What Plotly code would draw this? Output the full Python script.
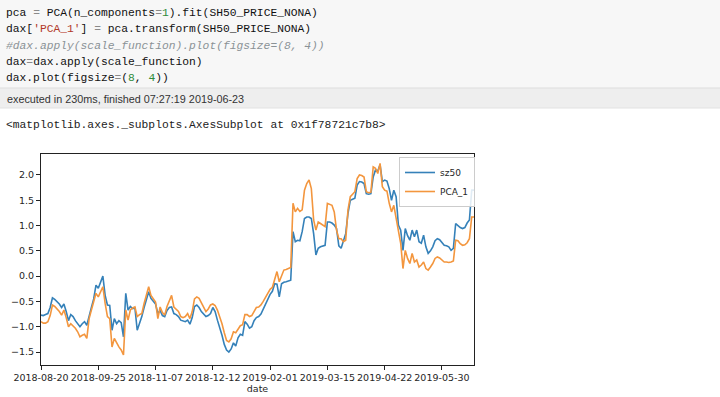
import plotly.graph_objects as go

# ---- data ----
tick_labels = ["2018-08-20", "2018-09-25", "2018-11-07", "2018-12-12",
               "2019-02-01", "2019-03-15", "2019-04-22", "2019-05-30"]
tick_step = 25

sz50 = [
    -0.77, -0.78, -0.76, -0.74, -0.62, -0.43, -0.46, -0.50, -0.55, -0.62,
    -0.55, -0.70, -0.88, -0.76, -0.80, -0.88, -0.93, -1.00, -0.94, -0.90,
    -0.97, -0.76, -0.62, -0.45, -0.18, -0.24, -0.10, 0.00, -0.38, -0.57,
    -0.58, -1.07, -0.84, -0.94, -0.88, -0.92, -1.20, -0.34, -0.67, -0.60,
    -0.64, -0.63, -1.07, -0.95, -0.80, -0.62, -0.45, -0.31, -0.44, -0.50,
    -0.55, -0.74, -0.68, -0.78, -0.80, -0.68, -0.62, -0.61, -0.74, -0.76,
    -0.80, -0.87, -0.88, -0.90, -0.87, -0.95, -0.82, -0.60, -0.57, -0.62,
    -0.70, -0.75, -0.80, -0.78, -0.74, -0.62, -0.70, -0.87, -1.00, -1.17,
    -1.35, -1.46, -1.50, -1.44, -1.32, -1.38, -1.22, -1.15, -1.17, -0.90,
    -0.95, -1.03, -1.00, -0.88, -0.82, -0.80, -0.75, -0.65, -0.55, -0.47,
    -0.36, -0.30, -0.15, -0.16, -0.41, -0.15, -0.12, -0.11, -0.10, -0.08,
    0.88, 0.68, 0.71, 0.70, 0.88, 1.14, 1.17, 1.17, 1.14, 0.84,
    0.42, 0.55, 0.58, 0.60, 0.61, 1.07, 1.07, 1.05, 1.01, 0.94,
    0.60, 0.55, 0.70, 0.84, 1.24, 1.50, 1.52, 1.54, 1.80, 1.87,
    1.86, 1.83, 1.63, 1.62, 1.63, 1.96, 2.10, 2.08, 2.20, 1.87,
    1.90, 1.88, 1.73, 1.50, 1.70, 1.57, 1.01, 0.91, 0.51, 0.94,
    0.80, 0.71, 0.91, 0.78, 0.91, 0.68, 0.65, 0.81, 0.58, 0.45,
    0.50, 0.58, 0.70, 0.74, 0.72, 0.66, 0.61, 0.60, 0.58, 0.51,
    0.55, 1.04, 1.00, 0.96, 0.94, 0.96, 1.05, 1.11, 1.70, 1.70,
]

pca_1 = [
    -0.90, -0.93, -0.93, -0.90, -0.78, -0.57, -0.60, -0.64, -0.70, -0.77,
    -0.67, -0.82, -1.00, -0.94, -0.98, -1.03, -1.10, -1.20, -1.17, -1.15,
    -1.23, -0.84, -0.67, -0.52, -0.34, -0.41, -0.31, -0.21, -0.54, -0.80,
    -0.84, -1.40, -1.23, -1.33, -1.40, -1.46, -1.56, -0.67, -0.87, -0.67,
    -0.63, -0.61, -0.80, -0.76, -0.74, -0.54, -0.35, -0.21, -0.38, -0.45,
    -0.51, -0.84, -0.61, -0.72, -0.77, -0.60, -0.50, -0.38, -0.61, -0.65,
    -0.70, -0.80, -0.82, -0.80, -0.74, -0.84, -0.70, -0.45, -0.41, -0.44,
    -0.52, -0.61, -0.70, -0.65, -0.57, -0.55, -0.58, -0.67, -0.80, -0.94,
    -1.12, -1.27, -1.30, -1.24, -1.10, -1.12, -1.05, -0.98, -0.96, -0.76,
    -0.76, -0.80, -0.78, -0.70, -0.62, -0.61, -0.57, -0.50, -0.42, -0.34,
    -0.26, -0.22, -0.05, 0.09, -0.11, 0.00, 0.12, 0.13, 0.15, 0.17,
    1.44, 1.27, 1.34, 1.28, 1.31, 1.70, 1.83, 1.90, 1.73, 1.11,
    0.91, 1.07, 1.04, 1.00, 0.98, 1.44, 1.42, 1.40, 1.27, 0.91,
    0.74, 0.74, 0.68, 0.71, 1.31, 1.57, 1.62, 1.67, 1.93, 2.00,
    1.99, 1.96, 1.67, 1.65, 1.66, 2.16, 2.13, 2.03, 2.23, 1.77,
    1.70, 1.68, 1.44, 1.27, 1.40, 1.17, 0.91, 0.65, 0.15, 0.51,
    0.35, 0.25, 0.45, 0.28, 0.32, 0.18, 0.22, 0.28, 0.15, 0.12,
    0.18, 0.25, 0.35, 0.38, 0.36, 0.32, 0.28, 0.28, 0.27, 0.28,
    0.30, 0.71, 0.70, 0.64, 0.61, 0.62, 0.66, 0.74, 1.17, 1.17,
]

y_ticks = [-1.5, -1.0, -0.5, 0.0, 0.5, 1.0, 1.5, 2.0]

# ---- layout helpers ----
W, H = 720, 397
def px(x):
    return x / W
def py(y):
    return 1 - y / H

x_idx = list(range(len(sz50)))
tick_pos = [i * tick_step for i in range(len(tick_labels))]

fig = go.Figure()
fig.add_trace(go.Scatter(x=x_idx, y=sz50, mode="lines", name="sz50",
                         line=dict(color="#3581b9", width=1.6)))
fig.add_trace(go.Scatter(x=x_idx, y=pca_1, mode="lines", name="PCA_1",
                         line=dict(color="#f3963e", width=1.6)))

axis_font = dict(family="DejaVu Sans", size=9.5, color="#262626")

fig.update_layout(
    width=W, height=H,
    margin=dict(l=0, r=0, t=0, b=0),
    paper_bgcolor="white", plot_bgcolor="white",
    showlegend=True,
    legend=dict(x=px(399), y=py(157), xanchor="left", yanchor="top",
                bgcolor="rgba(255,255,255,0.85)", bordercolor="#cccccc",
                borderwidth=1, font=dict(family="DejaVu Sans", size=9, color="#262626"),
                itemwidth=30, tracegroupgap=0),
    xaxis=dict(domain=[px(41), px(474)], range=[0, len(sz50) - 1],
               tickmode="array", tickvals=tick_pos, ticktext=tick_labels,
               showgrid=False, zeroline=False, showline=True, mirror=True,
               linecolor="#222222", linewidth=1, ticks="outside", ticklen=4,
               tickcolor="#222222", tickfont=axis_font, automargin=False,
               title=dict(text="date", font=axis_font, standoff=2)),
    yaxis=dict(domain=[py(365), py(154)], range=[-1.757, 2.415],
               tickmode="array", tickvals=y_ticks, tickformat=".1f",
               showgrid=False, zeroline=False, showline=True, mirror=True,
               linecolor="#222222", linewidth=1, ticks="outside", ticklen=4,
               tickcolor="#222222", tickfont=axis_font, automargin=False),
)

# notebook cell backgrounds
fig.add_shape(type="rect", xref="paper", yref="paper", x0=0, x1=1, y0=py(88), y1=1,
              fillcolor="#f7f7f7", line=dict(width=0), layer="below")
fig.add_shape(type="rect", xref="paper", yref="paper", x0=0, x1=1, y0=py(108), y1=py(88),
              fillcolor="#eeeeee", line=dict(width=0), layer="below")
fig.add_shape(type="line", xref="paper", yref="paper", x0=0, x1=1, y0=py(88), y1=py(88),
              line=dict(color="#dddddd", width=1), layer="below")
fig.add_shape(type="line", xref="paper", yref="paper", x0=0, x1=1, y0=py(108), y1=py(108),
              line=dict(color="#e2e2e2", width=1), layer="below")

OP = "#8a8a8a"
NUM = "#2e8b3a"
STR = "#b23a2a"
CMT = "#8a9296"

def op(s):
    return f'<span style="color:{OP}">{s}</span>'
def num(s):
    return f'<span style="color:{NUM}">{s}</span>'

code_lines = [
    f"pca {op('=')} PCA(n_components{op('=')}{num('1')}).fit(SH50_PRICE_NONA)",
    f"dax[<span style=\"color:{STR}\">'PCA_1'</span>] {op('=')} pca.transform(SH50_PRICE_NONA)",
    f"<span style=\"color:{CMT}\"><i>#dax.apply(scale_function).plot(figsize=(8, 4))</i></span>",
    f"dax{op('=')}dax.apply(scale_function)",
    f"dax.plot(figsize{op('=')}({num('8')}, {num('4')}))",
]
code_y = [12.7, 29.3, 45.5, 62, 78.5]
code_font = dict(family="Liberation Mono", size=11.3, color="#111111")
for txt, yy in zip(code_lines, code_y):
    fig.add_annotation(text=txt, xref="paper", yref="paper", x=px(4), y=py(yy),
                       xanchor="left", yanchor="middle", showarrow=False, font=code_font)

fig.add_annotation(text="executed in 230ms, finished 07:27:19 2019-06-23",
                   xref="paper", yref="paper", x=px(4.5), y=py(99),
                   xanchor="left", yanchor="middle", showarrow=False,
                   font=dict(family="Liberation Sans", size=10.8, color="#333333"))
fig.add_annotation(text="&lt;matplotlib.axes._subplots.AxesSubplot at 0x1f78721c7b8&gt;",
                   xref="paper", yref="paper", x=px(4), y=py(125),
                   xanchor="left", yanchor="middle", showarrow=False,
                   font=dict(family="Liberation Mono", size=11.3, color="#222222"))

fig.write_html("out.html", config={"displayModeBar": False})
